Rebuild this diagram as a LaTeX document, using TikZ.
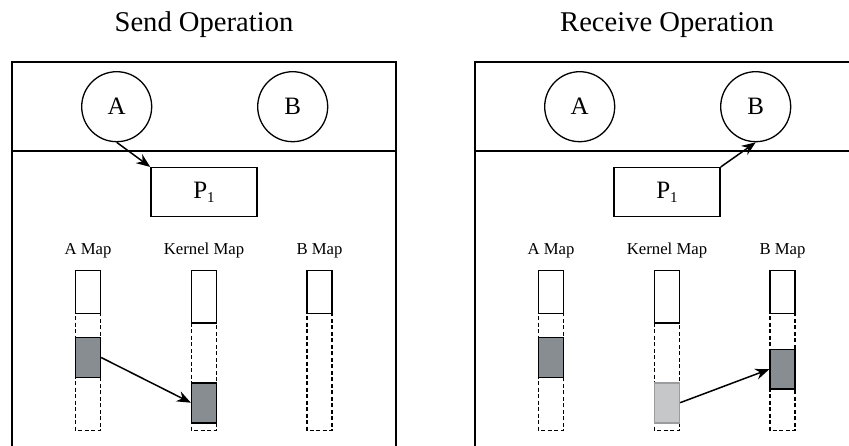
\documentclass[tikz,border=0pt]{standalone}
\usepackage{fontspec}
\setmainfont{Liberation Serif}
\usetikzlibrary{arrows.meta}

\definecolor{blockdark}{HTML}{888D92}
\definecolor{blocklight}{HTML}{C5C7C9}
\definecolor{blockedge}{HTML}{9A9C9E}

\tikzset{
  panel/.style={line width=1.8pt},
  proc/.style={circle, draw, line width=1.3pt, minimum size=70pt, inner sep=0pt,
    font=\fontsize{25}{25}\selectfont},
  pagebox/.style={rectangle, draw, line width=1.5pt, minimum width=106pt, minimum height=49pt,
    inner sep=0pt, font=\fontsize{25}{25}\selectfont},
  slot/.style={draw, line width=1.5pt, dash pattern=on 4pt off 2.5pt},
  frame/.style={rectangle, draw, line width=1.6pt, fill=white, minimum width=24.7pt, inner sep=0pt},
  used/.style={frame, fill=blockdark},
  stale/.style={frame, fill=blocklight, draw=blockedge},
  maplabel/.style={anchor=base, font=\fontsize{16.7}{17}\selectfont},
  title/.style={anchor=base, font=\fontsize{28.6}{30}\selectfont},
  move/.style={line width=1.5pt, -{Stealth[length=14pt,width=11pt]}}
}

\newcommand{\Psub}{P\raisebox{-0.4ex}{\fontsize{15}{15}\selectfont 1}}

\begin{document}
\begin{tikzpicture}[x=1pt, y=-1pt]
  \useasboundingbox (0,0) rectangle (849,446);
  \clip (0,0) rectangle (849,446);

  % Column positions and heights
  \def\colA{88}
  \def\colK{204}
  \def\colB{319.5}
  \def\slotTop{270.7}
  \def\slotBot{430.7}

  % ---------------- Send operation ----------------
  \node[title] (sendtitle) at (204,31.5) {Send Operation};
  \draw[panel] (12,470) -- (12,62) -- (396,62) -- (396,470);
  \draw[panel] (12,150.7) -- (396,150.7);

  % Processes and page
  \node[proc] (sA) at (116.7,106.7) {A};
  \node[proc] (sB) at (292.7,106.7) {B};
  \node[pagebox] (sP) at (204,192.2) {\Psub};
  \draw[move] (sA.south) -- (sP.north west);

  % Maps
  \node[maplabel] (sAlab) at (\colA,255) {A Map};
  \node[maplabel] (sKlab) at (\colK,255) {Kernel Map};
  \node[maplabel] (sBlab) at (\colB,255) {B Map};
  \draw[slot] (\colA-12.35,\slotTop) rectangle (\colA+12.35,\slotBot);
  \draw[slot] (\colK-12.35,\slotTop) rectangle (\colK+12.35,\slotBot);
  \draw[slot] (\colB-12.35,\slotTop) rectangle (\colB+12.35,\slotBot);
  \node[frame, minimum height=43pt] (sAtop) at (\colA,292.2) {};
  \node[frame, minimum height=52.3pt] (sKtop) at (\colK,296.85) {};
  \node[frame, minimum height=43pt] (sBtop) at (\colB,292.2) {};
  \node[used, minimum height=39.6pt] (sAblk) at (\colA,357.5) {};
  \node[used, minimum height=40pt] (sKblk) at (\colK,402.7) {};
  \draw[move] (sAblk.east) -- (sKblk.west);

  % ---------------- Receive operation ----------------
  \begin{scope}[xshift=463pt]
    \node[title] (recvtitle) at (204,31.5) {Receive Operation};
    \draw[panel] (12,470) -- (12,62) -- (396,62) -- (396,470);
    \draw[panel] (12,150.7) -- (396,150.7);

    % Processes and page
    \node[proc] (rA) at (116.7,106.7) {A};
    \node[proc] (rB) at (292.7,106.7) {B};
    \node[pagebox] (rP) at (204,192.2) {\Psub};
    \draw[move] (rP.north east) -- (rB.south);

    % Maps
    \node[maplabel] (rAlab) at (\colA,255) {A Map};
    \node[maplabel] (rKlab) at (\colK,255) {Kernel Map};
    \node[maplabel] (rBlab) at (\colB,255) {B Map};
    \draw[slot] (\colA-12.35,\slotTop) rectangle (\colA+12.35,\slotBot);
    \draw[slot] (\colK-12.35,\slotTop) rectangle (\colK+12.35,\slotBot);
    \draw[slot] (\colB-12.35,\slotTop) rectangle (\colB+12.35,\slotBot);
    \node[frame, minimum height=43pt] (rAtop) at (\colA,292.2) {};
    \node[frame, minimum height=52.3pt] (rKtop) at (\colK,296.85) {};
    \node[frame, minimum height=43pt] (rBtop) at (\colB,292.2) {};
    \node[used, minimum height=39.6pt] (rAblk) at (\colA,357.5) {};
    \node[stale, minimum height=40pt] (rKblk) at (\colK,402.7) {};
    \node[used, minimum height=39.7pt] (rBblk) at (\colB,369.2) {};
    \draw[move] (rKblk.east) -- (rBblk.west);
  \end{scope}
\end{tikzpicture}
\end{document}
